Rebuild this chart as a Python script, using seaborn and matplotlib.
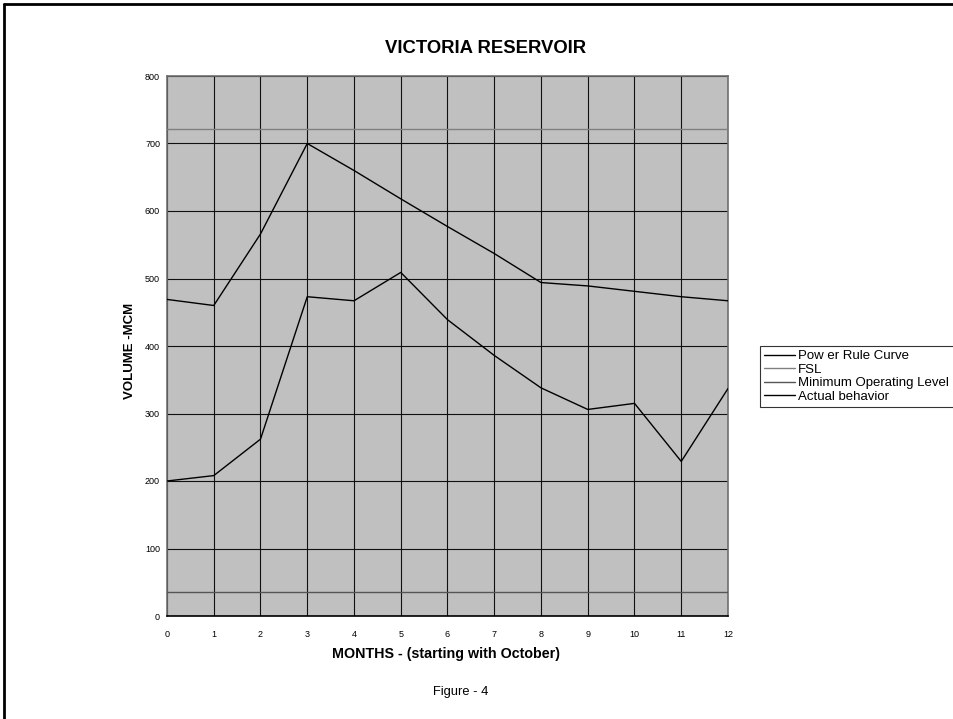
import matplotlib
matplotlib.use("Agg")
import matplotlib.pyplot as plt
from matplotlib.lines import Line2D
import seaborn as sns
import pandas as pd

months = list(range(13))
power_rule_curve = [469, 460, 566, 700, 660, 618, 577, 537, 494, 489, 481, 473, 467]
fsl = [722] * 13
min_operating_level = [35] * 13
actual_behavior = [200, 208, 262, 473, 467, 509, 439, 386, 338, 306, 315, 229, 337]
series_names = ["Power Rule Curve", "FSL", "Minimum Operating Level", "Actual behavior"]
legend_labels = ["Pow er Rule Curve", "FSL", "Minimum Operating Level", "Actual behavior"]
y_ticks = [0, 100, 200, 300, 400, 500, 600, 700, 800]

df = pd.DataFrame({
    "month": months * 4,
    "volume": power_rule_curve + fsl + min_operating_level + actual_behavior,
    "series": sum([[n] * 13 for n in series_names], []),
})

sns.set_theme(style="white")
plt.rcParams["font.family"] = ["Liberation Sans", "DejaVu Sans"]
plt.rcParams["text.color"] = "black"
plt.rcParams["axes.labelcolor"] = "black"
plt.rcParams["xtick.color"] = "black"
plt.rcParams["ytick.color"] = "black"

W, H = 954, 719
fig = plt.figure(figsize=(W / 100, H / 100), dpi=100)
L, R, T, B = 167, 728, 76, 616
ax = fig.add_axes([L / W, 1 - B / H, (R - L) / W, (B - T) / H])
ax.set_facecolor("#C0C0C0")

palette = {"Power Rule Curve": "#000000", "FSL": "#808080",
           "Minimum Operating Level": "#555555", "Actual behavior": "#000000"}
sns.lineplot(data=df, x="month", y="volume", hue="series", palette=palette,
             hue_order=series_names, linewidth=1.0, ax=ax, legend=False, zorder=3)

ax.set_xlim(0, 12)
ax.set_ylim(0, 800)
ax.set_xticks(months)
ax.set_yticks(y_ticks)
ax.tick_params(axis="both", labelsize=6.5, length=4, width=0.8, color="black",
               direction="out", labelcolor="#000000")
ax.tick_params(axis="y", pad=1)
ax.tick_params(axis="x", pad=6)
ax.grid(True, color="#101010", linewidth=0.8, zorder=1)
ax.set_axisbelow(True)
for s in ["top", "right", "left"]:
    ax.spines[s].set_color("#707070")
    ax.spines[s].set_linewidth(1.2)
    ax.spines[s].set_visible(True)
ax.spines["bottom"].set_color("#000000")
ax.spines["bottom"].set_linewidth(1.2)

ax.set_xlabel("MONTHS - (starting with October)", fontsize=10.3, fontweight="bold",
              color="black")
ax.xaxis.set_label_coords((446 - L) / (R - L), -(654 - B) / (B - T))
ax.xaxis.label.set_va("center")
ax.set_ylabel("VOLUME -MCM", fontsize=9.5, fontweight="bold", color="black")
ax.yaxis.set_label_coords(-(L - 130) / (R - L), (B - 351) / (B - T))
ax.yaxis.label.set_va("center")

fig.text(486 / W, 1 - 48.5 / H, "VICTORIA RESERVOIR", ha="center", va="center",
         fontsize=13.3, fontweight="bold", color="black")
fig.text(461 / W, 1 - 692 / H, "Figure - 4", ha="center", va="center", fontsize=9.3,
         color="black")

handles = [Line2D([0], [0], color=palette[n], linewidth=1.0) for n in series_names]
top = 1 - 346 / H
leg = fig.legend(handles, legend_labels, loc="upper left", mode="expand",
                 bbox_to_anchor=(760 / W, top - 0.1, 225 / W, 0.1), fontsize=9.5,
                 frameon=True, fancybox=False, handlelength=2.35, handletextpad=0.25,
                 labelspacing=0.1, borderpad=0.3, borderaxespad=0, labelcolor="black")
leg.get_frame().set_edgecolor("black")
leg.get_frame().set_linewidth(0.8)

# page border (left and top)
fig.add_artist(Line2D([4 / W, 4 / W], [0, 1 - 4 / H], color="black", linewidth=2,
                      transform=fig.transFigure))
fig.add_artist(Line2D([4 / W, 1], [1 - 4 / H, 1 - 4 / H], color="black", linewidth=2,
                      transform=fig.transFigure))

fig.savefig("out.png", dpi=100)
